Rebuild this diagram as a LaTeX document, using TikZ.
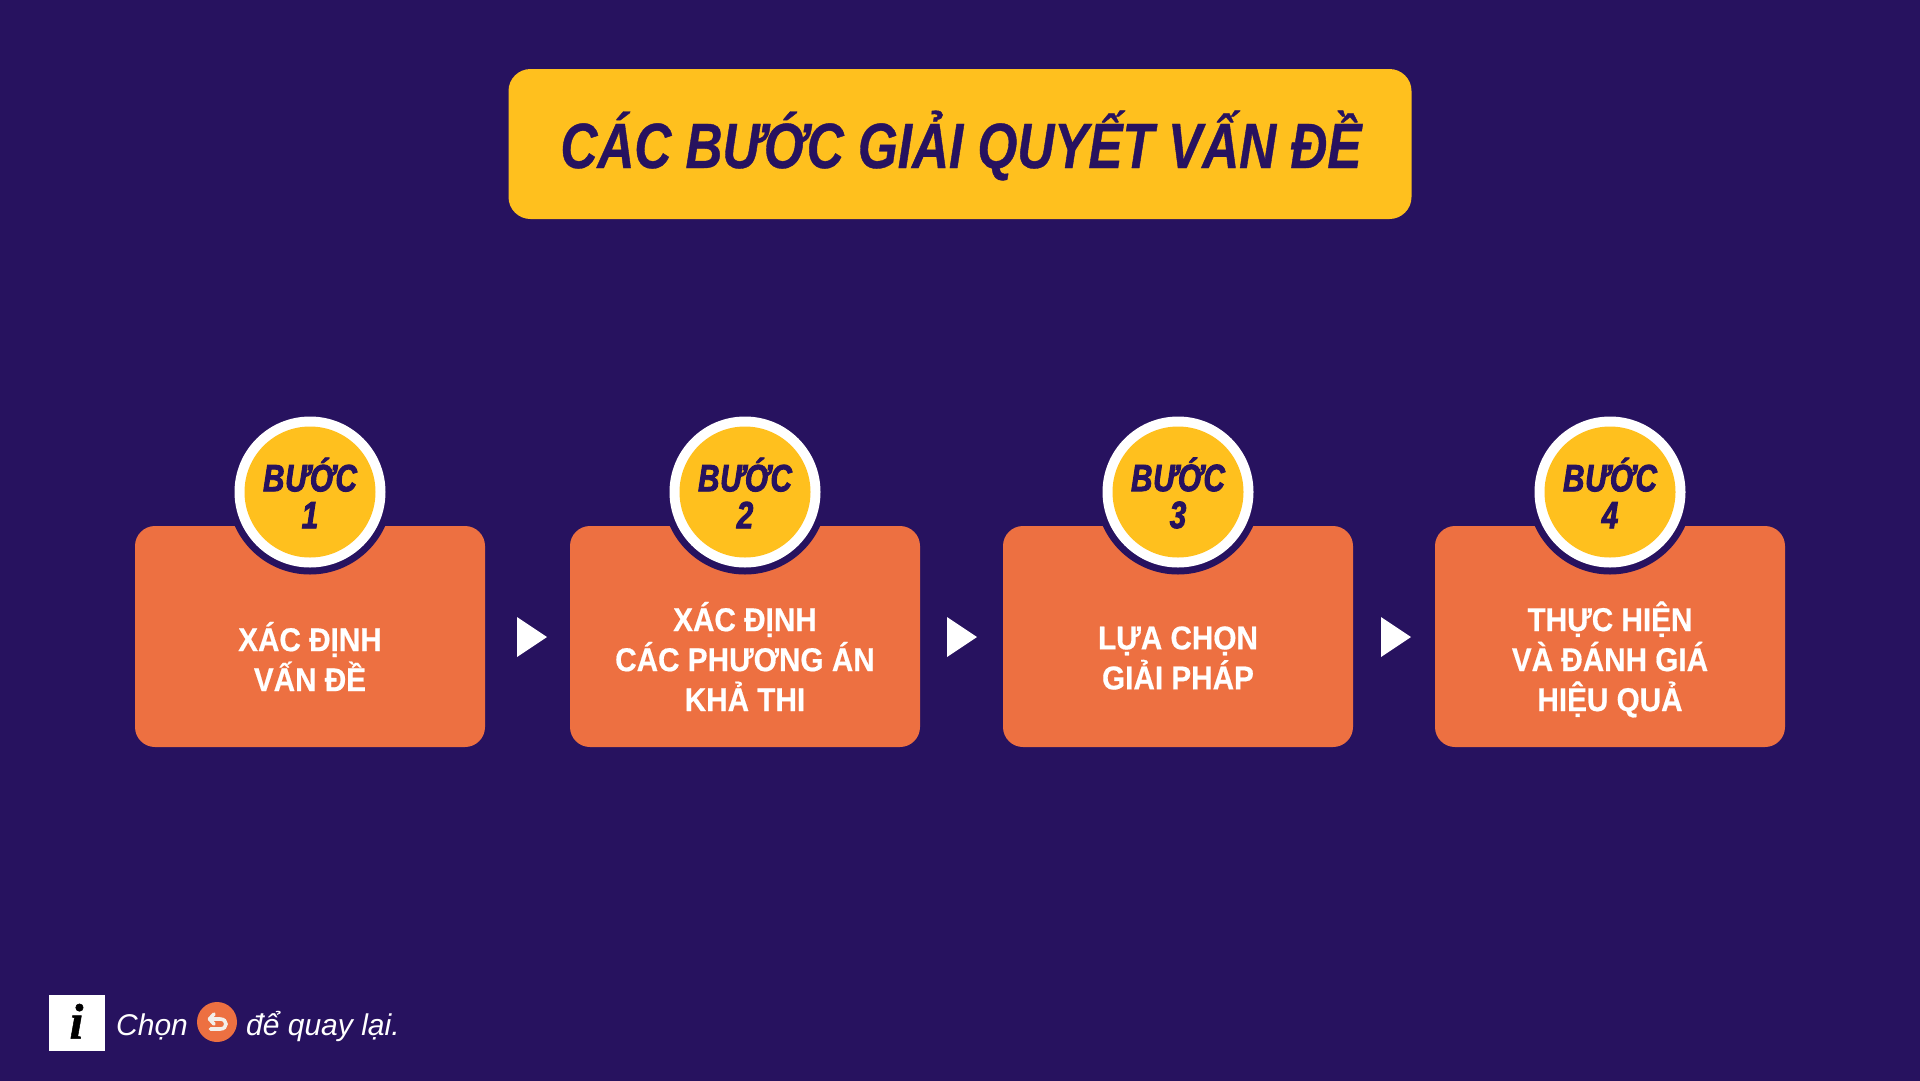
\documentclass[tikz,border=0pt]{standalone}
\usepackage{fontspec}
\setmainfont{Liberation Sans}
\newfontfamily\titlefont[FakeStretch=0.8,FakeBold=0.6]{Liberation Sans}
\newfontfamily\badgefont[FakeStretch=0.78,FakeBold=2.4,LetterSpace=2]{Liberation Sans}
\newfontfamily\cardfont[FakeStretch=0.9,FakeBold=0.5]{Liberation Sans}
\newfontfamily\infofont[FakeBold=1]{Liberation Serif}
\definecolor{bgpurple}{HTML}{27125F}
\definecolor{stepyellow}{HTML}{FFC01E}
\definecolor{steporange}{HTML}{ED7041}
\definecolor{iconwhite}{HTML}{F3EFEA}
\newcommand{\fixedlines}{\lineskiplimit=-100pt\relax}
\tikzset{
	titlebox/.style={fill=stepyellow,rounded corners=22,minimum width=903,minimum height=150,inner sep=0},
	titletext/.style={text=bgpurple,anchor=base,inner sep=0,font=\titlefont\bfseries\itshape\fontsize{64}{70}\selectfont},
	card/.style={fill=steporange,rounded corners=20,minimum width=350,minimum height=221,inner sep=0},
	ring/.style={circle,fill=bgpurple,minimum size=165,inner sep=0},
	badgeout/.style={circle,fill=white,minimum size=151,inner sep=0},
	badgein/.style={circle,fill=stepyellow,minimum size=131,inner sep=0},
	badgetext/.style={text=bgpurple,align=center,inner sep=0,font=\badgefont\bfseries\itshape\fontsize{38}{37}\selectfont\fixedlines},
	cardtext/.style={text=white,align=center,inner sep=0,font=\cardfont\bfseries\fontsize{33}{40}\selectfont\fixedlines},
	infotext/.style={text=white,anchor=base west,inner sep=0,font=\itshape\fontsize{30}{34}\selectfont},
}
\begin{document}
\begin{tikzpicture}[x=1pt,y=-1pt]
	% Background
	\useasboundingbox (0,0) rectangle (1920,1080);
	\fill[bgpurple] (-5,-5) rectangle (1925,1085);

	% Title
	\node[titlebox] (title) at (960,144) {};
	\node[titletext] (titlelabel) at (961,168) {CÁC BƯỚC GIẢI QUYẾT VẤN ĐỀ};

	% Step 1
	\node[card] (card1) at (310,636.5) {};
	\node[ring] (ring1) at (310,492) {};
	\node[badgeout] (out1) at (310,492) {};
	\node[badgein] (in1) at (310,492) {};
	\node[badgetext] (badge1) at (310,493) {BƯỚC\\1};
	\node[cardtext] (text1) at (310,656.5) {XÁC ĐỊNH\\VẤN ĐỀ};

	% Step 2
	\node[card] (card2) at (745,636.5) {};
	\node[ring] (ring2) at (745,492) {};
	\node[badgeout] (out2) at (745,492) {};
	\node[badgein] (in2) at (745,492) {};
	\node[badgetext] (badge2) at (745,493) {BƯỚC\\2};
	\node[cardtext] (text2) at (745,656.5) {XÁC ĐỊNH\\CÁC PHƯƠNG ÁN\\KHẢ THI};

	% Step 3
	\node[card] (card3) at (1178,636.5) {};
	\node[ring] (ring3) at (1178,492) {};
	\node[badgeout] (out3) at (1178,492) {};
	\node[badgein] (in3) at (1178,492) {};
	\node[badgetext] (badge3) at (1178,493) {BƯỚC\\3};
	\node[cardtext] (text3) at (1178,658) {LỰA CHỌN\\GIẢI PHÁP};

	% Step 4
	\node[card] (card4) at (1610,636.5) {};
	\node[ring] (ring4) at (1610,492) {};
	\node[badgeout] (out4) at (1610,492) {};
	\node[badgein] (in4) at (1610,492) {};
	\node[badgetext] (badge4) at (1610,493) {BƯỚC\\4};
	\node[cardtext] (text4) at (1610,659.5) {THỰC HIỆN\\VÀ ĐÁNH GIÁ\\HIỆU QUẢ};

	% Triangles between the cards
	\fill[white] (517,617) -- (547,637) -- (517,657) -- cycle;
	\fill[white] (947,617) -- (977,637) -- (947,657) -- cycle;
	\fill[white] (1381,617) -- (1411,637) -- (1381,657) -- cycle;

	% Note at the bottom
	\node[fill=white,minimum size=56,inner sep=0] (infobox) at (77,1022.5) {};
	\node[text=black,anchor=base,inner sep=0,font=\infofont\bfseries\itshape\fontsize{50}{50}\selectfont] (infoi) at (76.5,1038.5) {i};
	\node[infotext] (choose) at (116,1035) {Chọn};
	\node[circle,fill=steporange,minimum size=40,inner sep=0] (backbtn) at (217,1022) {};
	\node[infotext] (goback) at (246,1035) {để quay lại.};

	% Back arrow in the button
	\draw[iconwhite,line width=3.6,line cap=round,line join=round] (214,1014) -- (209.5,1019) -- (214,1024);
	\draw[iconwhite,line width=3.6,line cap=round] (209.5,1019) -- (220,1019) .. controls (228,1019) and (228,1029) .. (220,1029) -- (210.5,1029);
\end{tikzpicture}
\end{document}
